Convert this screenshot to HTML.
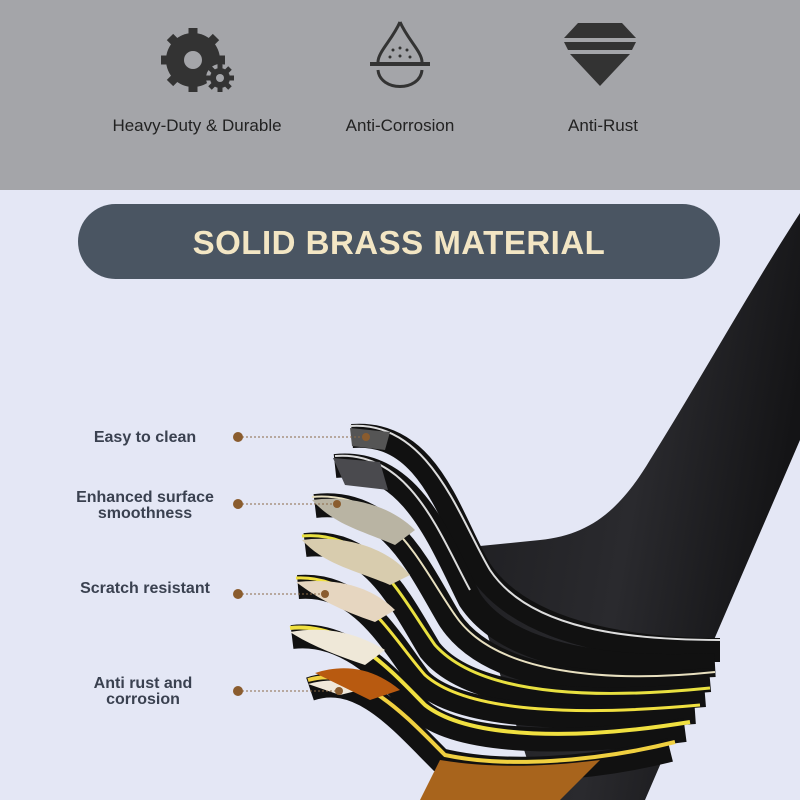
<!DOCTYPE html>
<html><head><style>
body{margin:0;width:800px;height:800px;overflow:hidden;background:#e4e7f5;font-family:"Liberation Sans",sans-serif;position:relative}
.top{position:absolute;left:0;top:0;width:800px;height:190px;background:#a4a5a9}
.lbl{position:absolute;top:116px;font-size:17px;color:#222;text-align:center;width:240px}
.pill{position:absolute;left:78px;top:204px;width:642px;height:75px;border-radius:38px;background:#4a5562;color:#f3e6c4;font-weight:bold;font-size:33px;text-align:center;line-height:77px;letter-spacing:0.5px}
.t{position:absolute;font-weight:bold;font-size:16px;color:#3a4150;text-align:center;width:220px;line-height:16px}
</style></head><body>
<div class="top"></div>
<svg width="800" height="800" style="position:absolute;left:0;top:0">
<defs><linearGradient id="pg" x1="0" y1="0" x2="1" y2="0.3"><stop offset="0" stop-color="#1c1c1f"/><stop offset="0.6" stop-color="#2a2a2e"/><stop offset="1" stop-color="#141416"/></linearGradient></defs>
<g fill="#333">
<circle cx="193" cy="60" r="27"/>
<g stroke="#333" stroke-width="9"><line x1="193" y1="28" x2="193" y2="92"/><line x1="161" y1="60" x2="225" y2="60"/><line x1="170" y1="37" x2="216" y2="83"/><line x1="216" y1="37" x2="170" y2="83"/></g>
<circle cx="193" cy="60" r="9" fill="#a4a5a9"/>
<circle cx="220" cy="78" r="14" fill="#a4a5a9"/>
<circle cx="220" cy="78" r="10"/>
<g stroke="#333" stroke-width="5"><line x1="220" y1="64" x2="220" y2="92"/><line x1="206" y1="78" x2="234" y2="78"/><line x1="210" y1="68" x2="230" y2="88"/><line x1="230" y1="68" x2="210" y2="88"/></g>
<circle cx="220" cy="78" r="4" fill="#a4a5a9"/>
</g>
<g fill="none" stroke="#333" stroke-width="3">
<path d="M400,22 C392,40 378,52 378,62"/><path d="M400,22 C408,40 422,52 422,62"/>
<line x1="370" y1="64" x2="430" y2="64" stroke-width="4"/>
<path d="M378,70 C380,92 420,92 422,70"/>
</g>
<g fill="#333"><circle cx="393" cy="50" r="1.5"/><circle cx="400" cy="48" r="1.5"/><circle cx="407" cy="50" r="1.5"/><circle cx="390" cy="57" r="1.5"/><circle cx="400" cy="56" r="1.5"/><circle cx="410" cy="57" r="1.5"/></g>
<g fill="#333">
<polygon points="578,23 622,23 636,38 564,38"/>
<polygon points="564,42 636,42 632,50 568,50"/>
<polygon points="570,54 630,54 600,86"/>
</g>
<path d="M800,213 C750,290 700,380 650,460 C620,510 590,535 540,540 L460,548 L540,800 L645,800 L800,440 Z" fill="url(#pg)"/>
<g fill="none" stroke-linecap="butt">
<path d="M352,436 C430,430 450,520 480,570 C520,630 620,650 720,650" stroke="#111" stroke-width="24"/>
<path d="M335,466 C410,458 440,540 470,600 C510,660 620,670 715,665" stroke="#111" stroke-width="24"/>
<path d="M315,506 C390,497 420,570 450,620 C490,680 600,690 710,680" stroke="#111" stroke-width="24"/>
<path d="M305,545 C370,537 400,600 430,650 C470,700 580,705 705,695" stroke="#111" stroke-width="24"/>
<path d="M298,587 C360,582 390,640 420,680 C460,720 580,720 695,712" stroke="#111" stroke-width="24"/>
<path d="M292,637 C350,630 390,680 420,710 C460,745 570,745 685,730" stroke="#111" stroke-width="24"/>
<path d="M310,689 C360,672 400,720 440,760 C500,775 590,770 670,750" stroke="#111" stroke-width="24"/>
<path d="M350,426 C430,420 460,520 490,570 C530,630 630,640 720,640" stroke="#ddd" stroke-width="2"/>
<path d="M335,456 C410,450 440,535 470,590" stroke="#ddd" stroke-width="2"/>
<path d="M312,497 C390,490 420,565 455,615 C495,675 610,683 715,672" stroke="#e8e0c0" stroke-width="2"/>
<path d="M302,536 C370,530 400,595 435,645 C480,695 590,700 710,688" stroke="#e8e040" stroke-width="3"/>
<path d="M296,578 C360,575 390,635 425,675 C470,715 590,715 700,705" stroke="#f0e040" stroke-width="3"/>
<path d="M290,628 C350,622 395,675 425,705 C470,740 580,740 690,722" stroke="#f0e040" stroke-width="4"/>
<path d="M308,680 C360,665 405,715 445,755 C505,768 595,762 675,742" stroke="#f0d040" stroke-width="4"/>
</g>
<path d="M350,428 L390,432 L385,450 L352,446Z" fill="#555"/>
<path d="M333,458 L380,462 L388,490 L345,485Z" fill="#4a4a4e"/>
<path d="M312,500 C350,495 390,505 415,530 L395,545 C360,530 335,525 312,500Z" fill="#b9b4a3"/>
<path d="M302,540 C340,535 385,545 410,575 L390,585 C355,570 325,565 302,540Z" fill="#d8ccae"/>
<path d="M296,582 C335,578 370,585 395,610 L375,622 C340,610 320,600 296,582Z" fill="#e6d6c0"/>
<path d="M290,632 C330,625 360,635 385,650 L365,665 C335,655 310,645 290,632Z" fill="#efe8d8"/>
<path d="M308,684 C330,678 345,680 360,690 L340,695Z" fill="#f0e8da"/>
<path d="M315,673 C340,665 370,665 400,690 L370,700Z" fill="#b85a10"/>
<path d="M420,800 L440,760 C500,770 560,765 600,760 L560,800Z" fill="#a8641c"/>
<g stroke="#8a6a48" stroke-width="1" stroke-dasharray="2,2">
<line x1="238" y1="437" x2="365" y2="437"/><line x1="238" y1="504" x2="336" y2="504"/>
<line x1="238" y1="594" x2="325" y2="594"/><line x1="238" y1="691" x2="338" y2="691"/>
</g>
<g fill="#8a5c2e"><circle cx="238" cy="437" r="5"/><circle cx="238" cy="504" r="5"/><circle cx="238" cy="594" r="5"/><circle cx="238" cy="691" r="5"/>
<circle cx="366" cy="437" r="4"/><circle cx="337" cy="504" r="4"/><circle cx="325" cy="594" r="4"/><circle cx="339" cy="691" r="4"/></g>
</svg>
<div class="lbl" style="left:77px">Heavy-Duty &amp; Durable</div>
<div class="lbl" style="left:280px">Anti-Corrosion</div>
<div class="lbl" style="left:483px">Anti-Rust</div>
<div class="pill">SOLID BRASS MATERIAL</div>
<div class="t" style="left:35px;top:430px">Easy to clean</div>
<div class="t" style="left:35px;top:490px">Enhanced surface<br>smoothness</div>
<div class="t" style="left:35px;top:581px">Scratch resistant</div>
<div class="t" style="left:33px;top:676px">Anti rust and<br>corrosion</div>
</body></html>
